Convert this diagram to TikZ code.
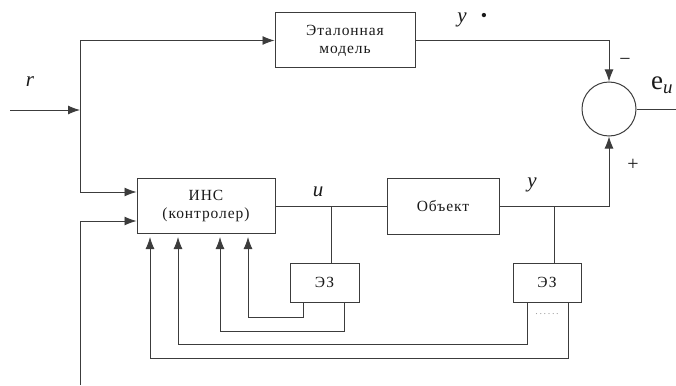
\documentclass[tikz,border=0pt]{standalone}
\usepackage{fontspec}
\setmainfont{Liberation Serif}
\newfontfamily\blkfont{Liberation Serif}[LetterSpace=6]
\usetikzlibrary{arrows.meta}
\definecolor{SchLine}{HTML}{3C3C3C}
\definecolor{SchText}{HTML}{1A1A1A}
\definecolor{SchDots}{HTML}{9A9A9A}

\begin{document}
\begin{tikzpicture}[x=1pt,y=-1pt,
    wire/.style={draw=SchLine,line width=0.9pt},
    arr/.style={wire,-{Latex[length=12pt,width=9pt]}},
    fb/.style={arr,shorten >=3pt},
    blk/.style={draw=SchLine,line width=1pt,inner sep=0pt,align=center,
      text=SchText,font=\blkfont\fontsize{15.5}{18}\selectfont},
    lbl/.style={text=SchText,inner sep=0pt,font=\fontsize{21}{21}\selectfont\itshape},
    sgn/.style={text=SchText,inner sep=0pt,font=\fontsize{20}{20}\selectfont}]
  \useasboundingbox (0,0) rectangle (676,385);

  \node[blk,minimum width=140pt,minimum height=55pt] (etalon) at (345,40.5) {Эталонная\\модель};
  \node[blk,minimum width=138pt,minimum height=55pt] (ins) at (206,206) {ИНС\\(контролер)};
  \node[blk,minimum width=112pt,minimum height=56pt] (obj) at (443,206) {Объект};
  \node[blk,minimum width=69pt,minimum height=39pt] (ez1) at (324.5,282.5) {ЭЗ};
  \node[blk,minimum width=68pt,minimum height=39pt] (ez2) at (547,282.5) {ЭЗ};
  \node[draw=SchLine,line width=1pt,circle,minimum size=54pt,inner sep=0pt] (sum) at (609,109) {};

  \coordinate (rin) at (10,110);
  \coordinate (rsplit) at (80,110);
  \coordinate (fbin) at (80,385);
  \coordinate (utap) at (331,206);
  \coordinate (ytap) at (554,206);
  \coordinate (eout) at (676,109);

  \draw[arr] (rin) -- (rsplit);
  \draw[arr] (rsplit) |- (etalon.west);
  \draw[arr] (rsplit) |- ([yshift=14pt]ins.west);
  \draw[arr] (fbin) |- ([yshift=-15pt]ins.west);
  \draw[arr] (etalon.east) -| (sum.north);
  \draw[arr] (obj.east) -| (sum.south);
  \draw[wire] (sum.east) -- (eout);
  \draw[wire] (ins.east) -- (obj.west);
  \draw[wire] (utap) -- (utap |- ez1.north);
  \draw[wire] (ytap) -- (ytap |- ez2.north);

  \draw[fb] ([xshift=-21.5pt]ez1.south) -- ++(0,15) -| ([xshift=42pt]ins.south);
  \draw[fb] ([xshift=19.5pt]ez1.south) -- ++(0,29) -| ([xshift=14pt]ins.south);
  \draw[fb] ([xshift=-20pt]ez2.south) -- ++(0,42) -| ([xshift=-28pt]ins.south);
  \draw[fb] ([xshift=21pt]ez2.south) -- ++(0,56) -| ([xshift=-56pt]ins.south);

  \node[lbl] (rlbl) at (30,82) {r};
  \node[lbl] (ystar) at (462,20) {y};
  \node[text=SchText,inner sep=0pt,font=\fontsize{18}{18}\selectfont] (ydot) at (484,17) {\textbullet};
  \node[lbl] (ulbl) at (318,192) {u};
  \node[lbl] (ylbl) at (532,185) {y};
  \node[sgn] (minus) at (625,62) {−};
  \node[sgn] (plus) at (633,165) {+};
  \node[anchor=base west,inner sep=0pt,text=SchText,font=\fontsize{27}{27}\selectfont] (elbl) at (651,90) {e\textsubscript{\textit{u}}};
  \node[text=SchDots,inner sep=0pt,font=\fontsize{10}{10}\selectfont] (dots) at (547,314) {.\,.\,.\,.\,.\,.};
\end{tikzpicture}
\end{document}
